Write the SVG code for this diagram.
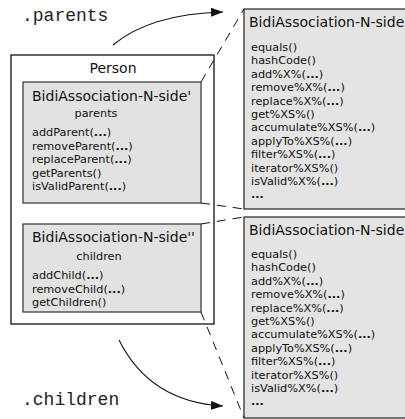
<svg xmlns="http://www.w3.org/2000/svg" width="405" height="419" viewBox="0 0 405 419">
<style>
text{font-family:"DejaVu Sans",sans-serif;fill:#111}
.t{font-size:14px}
.m{font-size:11.3px}
.b{font-weight:bold}
.mono{font-family:"Liberation Mono",monospace;font-size:18px;fill:#222}
.box{fill:#e2e2e2;stroke:#333;stroke-width:1.2}
.rbox{fill:#e4e4e4;stroke:#222;stroke-width:1.2}
.dash{fill:none;stroke:#111;stroke-width:1;stroke-dasharray:9 7}
.arr{fill:none;stroke:#111;stroke-width:1.1}
</style>
<defs>
<marker id="ah" markerUnits="userSpaceOnUse" markerWidth="13" markerHeight="9" refX="12" refY="4.5" orient="auto">
<path d="M0,0 L12,4.5 L0,9 z" fill="#111"/>
</marker>
</defs>

<g id="person">
<rect x="11" y="55" width="203" height="269" fill="#fff" stroke="#111" stroke-width="1.3"/>
<text class="t" x="113" y="73" text-anchor="middle">Person</text>
</g>

<g id="parents-side">
<rect class="box" x="23" y="82" width="178" height="121"/>
<text class="t" x="32" y="101">BidiAssociation-N-side'</text>
<text class="m" x="96" y="117" text-anchor="middle">parents</text>
<text class="m" x="32" y="136">addParent(<tspan class="b">...</tspan>)</text>
<text class="m" x="32" y="149.5">removeParent(<tspan class="b">...</tspan>)</text>
<text class="m" x="32" y="163">replaceParent(<tspan class="b">...</tspan>)</text>
<text class="m" x="32" y="176.5">getParents()</text>
<text class="m" x="32" y="190">isValidParent(<tspan class="b">...</tspan>)</text>
</g>

<g id="children-side">
<rect class="box" x="23" y="224" width="178" height="88"/>
<text class="t" x="32" y="242">BidiAssociation-N-side''</text>
<text class="m" x="99" y="260" text-anchor="middle">children</text>
<text class="m" x="32" y="279">addChild(<tspan class="b">...</tspan>)</text>
<text class="m" x="32" y="292.5">removeChild(<tspan class="b">...</tspan>)</text>
<text class="m" x="32" y="306">getChildren()</text>
</g>

<g id="generic-parents">
<rect class="rbox" x="244" y="9" width="170" height="200"/>
<text class="t" x="249" y="27">BidiAssociation-N-side</text>
<text class="m" x="251" y="51">equals()</text>
<text class="m" x="251" y="64.4">hashCode()</text>
<text class="m" x="251" y="77.8">add%X%(<tspan class="b">...</tspan>)</text>
<text class="m" x="251" y="91.2">remove%X%(<tspan class="b">...</tspan>)</text>
<text class="m" x="251" y="104.6">replace%X%(<tspan class="b">...</tspan>)</text>
<text class="m" x="251" y="118">get%XS%()</text>
<text class="m" x="251" y="131.4">accumulate%XS%(<tspan class="b">...</tspan>)</text>
<text class="m" x="251" y="144.8">applyTo%XS%(<tspan class="b">...</tspan>)</text>
<text class="m" x="251" y="158.2">filter%XS%(<tspan class="b">...</tspan>)</text>
<text class="m" x="251" y="171.6">iterator%XS%()</text>
<text class="m" x="251" y="185">isValid%X%(<tspan class="b">...</tspan>)</text>
<text class="m b" x="251" y="198.4">...</text>
</g>

<g id="generic-children">
<rect class="rbox" x="244" y="217" width="170" height="201"/>
<text class="t" x="249" y="235">BidiAssociation-N-side</text>
<text class="m" x="251" y="258">equals()</text>
<text class="m" x="251" y="271.4">hashCode()</text>
<text class="m" x="251" y="284.8">add%X%(<tspan class="b">...</tspan>)</text>
<text class="m" x="251" y="298.2">remove%X%(<tspan class="b">...</tspan>)</text>
<text class="m" x="251" y="311.6">replace%X%(<tspan class="b">...</tspan>)</text>
<text class="m" x="251" y="325">get%XS%()</text>
<text class="m" x="251" y="338.4">accumulate%XS%(<tspan class="b">...</tspan>)</text>
<text class="m" x="251" y="351.8">applyTo%XS%(<tspan class="b">...</tspan>)</text>
<text class="m" x="251" y="365.2">filter%XS%(<tspan class="b">...</tspan>)</text>
<text class="m" x="251" y="378.6">iterator%XS%()</text>
<text class="m" x="251" y="392">isValid%X%(<tspan class="b">...</tspan>)</text>
<text class="m b" x="251" y="405.4">...</text>
</g>

<g id="labels">
<text class="mono" x="22" y="21">.parents</text>
<text class="mono" x="22" y="405">.children</text>
</g>

<g id="connectors">
<path class="dash" d="M201,82 L244,9"/>
<path class="dash" d="M201,203 L244,209"/>
<path class="dash" d="M201,224 L244,217"/>
<path class="dash" d="M201,312 L244,418"/>
<path class="arr" d="M113,45 Q150,14 223,12" marker-end="url(#ah)"/>
<path class="arr" d="M119,340 Q150,402 223,406" marker-end="url(#ah)"/>
</g>
</svg>
